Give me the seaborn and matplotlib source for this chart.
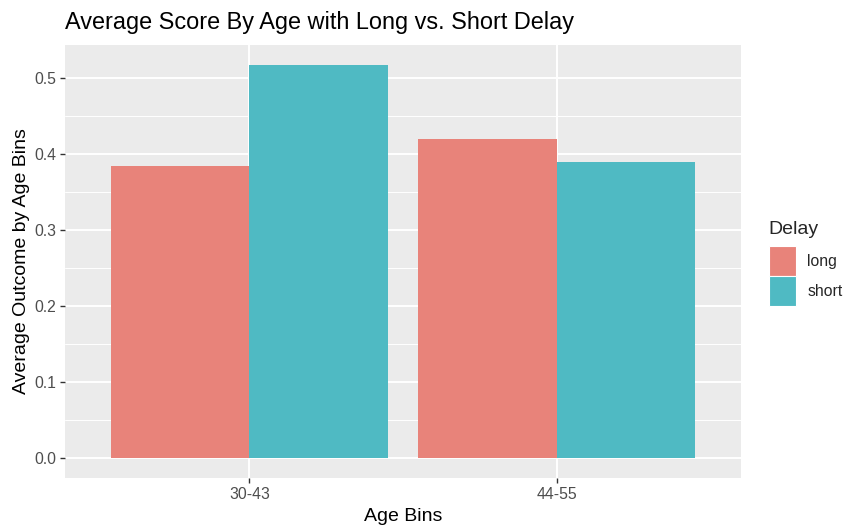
import matplotlib
matplotlib.use("Agg")
import matplotlib.pyplot as plt
import matplotlib.patches as mpatches
import seaborn as sns
import pandas as pd
import numpy as np

age_bins = ["30-43", "44-55"]
delays = ["long", "short"]
long_vals = [0.385, 0.420]
short_vals = [0.518, 0.390]
colors = ["#E8837A", "#4FBAC3"]
y_ticks = [0.0, 0.1, 0.2, 0.3, 0.4, 0.5]

df = pd.DataFrame({
    "Age Bins": age_bins * 2,
    "Delay": ["long"] * 2 + ["short"] * 2,
    "value": long_vals + short_vals,
})

sns.set_theme(style="darkgrid")
plt.rcParams["font.family"] = ["Liberation Sans", "DejaVu Sans"]

fig = plt.figure(figsize=(8.47, 5.27), dpi=100)
ax = fig.add_axes([65 / 847, 1 - 478 / 527, (741 - 65) / 847, (478 - 45) / 527])
ax.set_facecolor("#EBEBEB")

sns.barplot(data=df, x="Age Bins", y="value", hue="Delay", hue_order=delays,
            order=age_bins, palette=colors, width=0.9, gap=0, linewidth=0,
            saturation=1, ax=ax, legend=False, zorder=3)

ymax = max(long_vals + short_vals)
ax.set_ylim(-0.05 * ymax, ymax * 1.05)
ax.set_xlim(-0.6, 1.6)
ax.set_yticks(y_ticks)
ax.set_yticklabels([f"{t:.1f}" for t in y_ticks])
ax.set_yticks([0.05, 0.15, 0.25, 0.35, 0.45], minor=True)
ax.grid(True, which="major", color="white", linewidth=1.4, zorder=0)
ax.grid(True, which="minor", axis="y", color="white", linewidth=0.7, zorder=0)
ax.set_axisbelow(True)
for s in ax.spines.values():
    s.set_visible(False)

ax.tick_params(axis="both", which="major", length=3.5, width=1.0, color="#333333",
               labelsize=11.3, labelcolor="#4D4D4D", pad=3, left=True, bottom=True)
ax.tick_params(axis="both", which="minor", length=0)

ax.set_xlabel("Age Bins", fontsize=14, color="black", labelpad=4)
ax.set_ylabel("Average Outcome by Age Bins", fontsize=14, color="black", labelpad=3)
fig.text(65 / 847, 1 - 22 / 527, "Average Score By Age with Long vs. Short Delay",
         fontsize=16.9, color="black", ha="left", va="center")

handles = [mpatches.Patch(facecolor=c, edgecolor="white", linewidth=0.8, label=l)
           for c, l in zip(colors, delays)]
leg = fig.legend(handles=handles, title="Delay", loc="upper left",
                 bbox_to_anchor=(756 / 847, 1 - 208 / 527), frameon=False,
                 fontsize=11.3, title_fontsize=14, handlelength=1.78,
                 handleheight=2.56, labelspacing=0.0, handletextpad=0.7,
                 alignment="left", borderpad=0.3)
leg._legend_box.sep = 6

fig.savefig("out.png", dpi=100)
